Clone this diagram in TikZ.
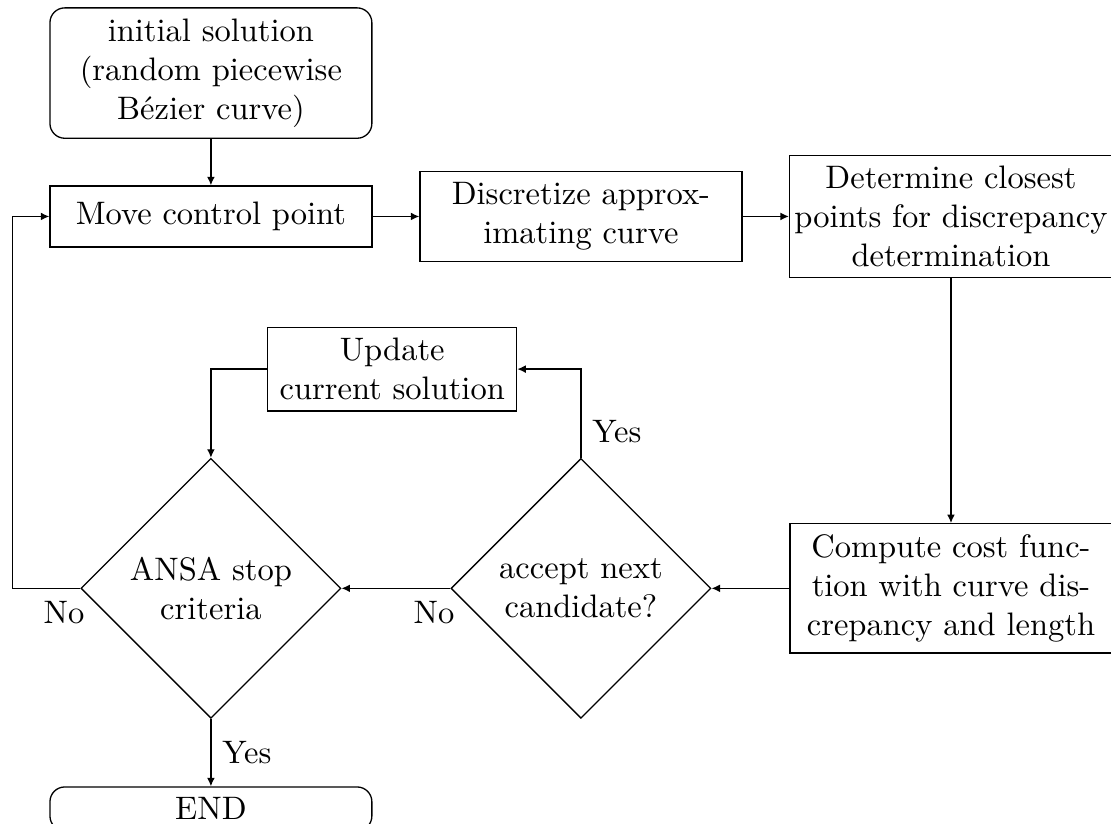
\documentclass[tikz,border=0pt]{standalone}
\usepackage{tikz}
\usetikzlibrary{arrows.meta,positioning,calc,shapes.geometric}
\tikzset{
  flow/.style={-{Latex[length=2.6pt,width=2.4pt]},line width=0.4pt},
  box/.style={draw,line width=0.4pt,align=center,inner sep=3.33pt},
  boxwide/.style={box,minimum width=3.48cm},
  boxround/.style={boxwide,rounded corners=1.6mm},
  decision/.style={draw,diamond,line width=0.4pt,align=center,inner sep=0pt,
                   minimum width=2.81cm,minimum height=2.81cm},
  answer/.style={inner sep=3.33pt},
}
\begin{document}
\begin{tikzpicture}
    \useasboundingbox (0,0) rectangle (12.01,-8.90);

    \node[boxround] (init) at (2.28,-0.79)
      {initial solution\\(random piecewise\\B\'ezier curve)};
    \node[boxwide,minimum height=0.66cm] (move) at (2.28,-2.34) {Move control point};
    \node[boxwide] (disc) at (6.28,-2.34)
      {Discretize approx-\\imating curve};
    \node[boxwide,inner xsep=1.5pt] (det) at (10.28,-2.34)
      {Determine closest\\points for discrepancy\\determination};
    \node[boxwide] (cost) at (10.28,-6.36)
      {Compute cost func-\\tion with curve dis-\\crepancy and length};
    \node[box,minimum width=2.69cm] (upd) at (4.24,-3.99)
      {Update\\current solution};
    \node[decision] (accept) at (6.28,-6.36) {accept next\\candidate?};
    \node[decision] (stop) at (2.28,-6.36) {ANSA stop\\criteria};
    \node[boxround,anchor=north] (fin) at (2.28,-8.50) {END};

    \draw[flow] (init.south)--(move.north);
    \draw[flow] (move.east)--(disc.west);
    \draw[flow] (disc.east)--(det.west);
    \draw[flow] (det.south)--(cost.north);
    \draw[flow] (cost.west)--(accept.east);
    \draw[flow] (accept.west)--(stop.east);
    \draw[flow] (accept.north) |- node[answer,right,pos=0.15] {Yes} (upd.east);
    \draw[flow] (upd.west) -| (stop.north);
    \draw[flow] (stop.west) -- ++(-0.735,0) |- (move.west);
    \draw[flow] (stop.south) -- node[answer,right] {Yes} (fin.north);

    \node[inner sep=0pt,anchor=north east] (nostop) at ($(stop.west)+(0.05,-0.13)$) {No};
    \node[inner sep=0pt,anchor=north east] (noaccept) at ($(accept.west)+(0.05,-0.13)$) {No};
  \end{tikzpicture}
\end{document}
